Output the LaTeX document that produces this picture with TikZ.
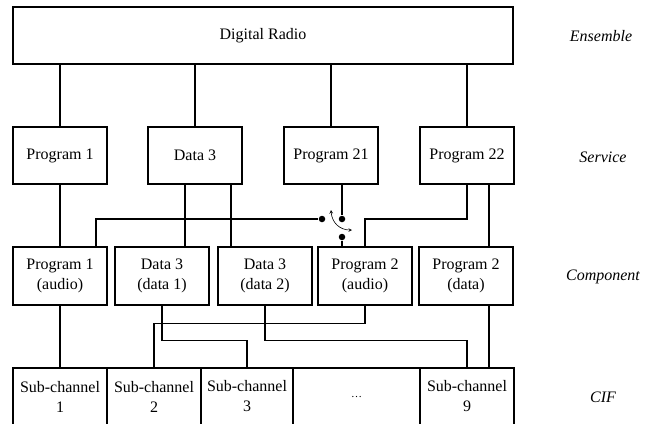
\documentclass[tikz,border=0pt]{standalone}
\usepackage{fontspec}
\setmainfont{Liberation Serif}
\usetikzlibrary{arrows,positioning,calc}

\begin{document}
\begin{tikzpicture}[x=1pt, y=-1pt, line width=1.2pt,
    box/.style={draw, line width=1.2pt, minimum width=94pt, minimum height=57pt,
        inner sep=0pt, align=center, font=\fontsize{16}{20}\selectfont},
    layer/.style={font=\fontsize{16}{20}\selectfont\itshape},
    contact/.style={circle, fill, inner sep=0pt, minimum size=6.5pt},
    joint/.style={circle, fill, inner sep=0pt, minimum size=2.8pt}]
    \useasboundingbox (0,0) rectangle (652,423);
    \clip (0,0) rectangle (652,423);

    % Ensemble
    \node[box, minimum width=500pt] (ens) at (263,35.5) {Digital Radio};

    % Services
    \node[box] (prog1) at (60,155.5) {Program 1};
    \node[box] (data3) at (195,155.5) {Data 3};
    \node[box] (prog21) at (331,155.5) {Program 21};
    \node[box] (prog22) at (467,155.5) {Program 22};

    % Components
    \node[box, minimum height=58pt] (cp1a) at (60,276) {Program 1\\(audio)};
    \node[box, minimum height=58pt] (cd31) at (162,276) {Data 3\\(data 1)};
    \node[box, minimum height=58pt] (cd32) at (265,276) {Data 3\\(data 2)};
    \node[box, minimum height=58pt] (cp2a) at (365,276) {Program 2\\(audio)};
    \node[box, minimum height=58pt] (cp2d) at (466,276) {Program 2\\(data)};

    % Sub-channels
    \node[box] (sc1) at (60,396.5) {Sub-channel\\1};
    \node[box] (sc2) at (154,396.5) {Sub-channel\\2};
    \node[box, minimum width=92pt] (sc3) at (247,396.5) {Sub-channel\\3};
    \node[box, minimum width=127pt] (scx) at (356.5,396.5) {\fontsize{11}{12}\selectfont\dots};
    \node[box] (sc9) at (467,396.5) {Sub-channel\\9};

    % Layer names
    \node[layer] (lens) at (601,36) {Ensemble};
    \node[layer] (lsrv) at (603,157) {Service};
    \node[layer] (lcmp) at (603,277) {Component};
    \node[layer] (lcif) at (603,397) {CIF};

    % Ensemble to services
    \foreach \s in {prog1,data3,prog21,prog22}
        \draw (ens.south -| \s.north) -- (\s.north);

    % Services to components
    \coordinate (d3a) at ([xshift=-10pt]data3.south);
    \coordinate (d3b) at ([xshift=36pt]data3.south);
    \coordinate (p1b) at ([xshift=36pt]cp1a.north);
    \coordinate (p22b) at ([xshift=22pt]prog22.south);
    \draw (prog1) -- (cp1a);
    \draw (d3a) -- (d3a |- cd31.north);
    \draw (d3b) -- (d3b |- cd32.north);
    \draw (p22b) -- (p22b |- cp2d.north);

    % Switch
    \node[contact] (sw1) at (322,219) {};
    \node[contact] (sw2) at (342,219) {};
    \node[contact] (sw3) at (342,237) {};
    \draw (p1b) |- (sw1);
    \draw (prog21.south -| sw2) -- (sw2);
    \draw (sw3) -- (sw3 |- cp2a.north);
    \draw (prog22.south) -- (prog22.south |- sw2) -| (cp2a.north);
    \draw[<->, >=stealth, line width=0.6pt] (331,210) .. controls (332,223) and (340,230) .. (352,230);
    \node[joint] (j1) at (d3a |- sw1) {};
    \node[joint] (j2) at (d3b |- sw1) {};

    % Components to sub-channels
    \draw (cp1a) -- (sc1);
    \draw (cd31.south) -- ++(0,35) -| (sc3.north);
    \draw (cd32.south) -- ++(0,35) -| (sc9.north);
    \draw (cp2a.south) -- ++(0,18) -| (sc2.north);
    \draw (p22b |- cp2d.south) -- (p22b |- sc9.north);
    \node[joint] (j3) at ($(cd31.south)+(0,18)$) {};
    \node[joint] (j4) at ($(cd32.south)+(0,18)$) {};
\end{tikzpicture}
\end{document}
